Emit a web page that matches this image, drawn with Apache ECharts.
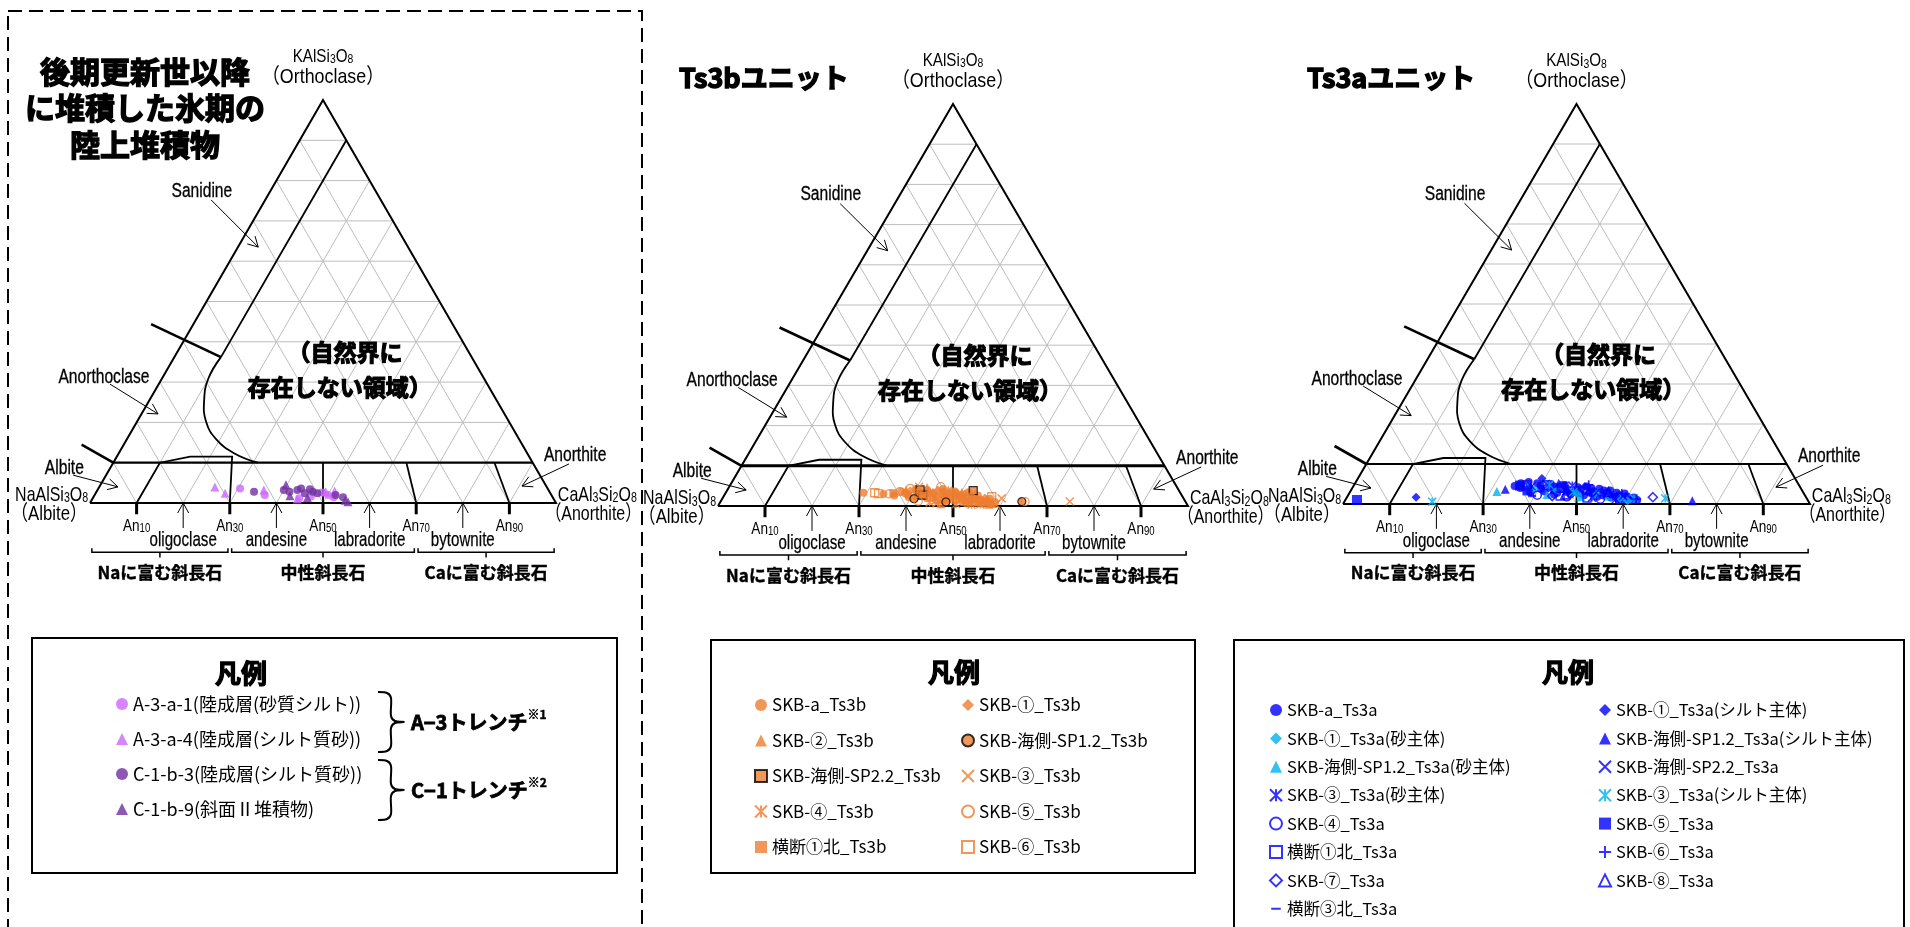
<!DOCTYPE html>
<html>
<head>
<meta charset="utf-8">
<script src="https://cdn.jsdelivr.net/npm/echarts@6.0.0/dist/echarts.min.js"></script>
<style>
  html, body { margin: 0; padding: 0; background: #fff; }
  #main { width: 1910px; height: 927px; }
</style>
</head>
<body>
<div id="main"></div>
<script>
// 長石三角図 (Ab-An-Or)  値はすべて [An, Or] (mol%) ※ Ab = 100 - An - Or

// ---- 後期更新世以降の陸上堆積物 ----
var a3a1 = [[30.4, 3.6], [36.5, 2.0], [44.3, 1.2], [46.6, 1.6], [48.5, 2.6], [50.1, 2.0], [51.6, 1.4]];
var a3a4 = [[24.8, 4.0], [27.8, 2.4], [35.7, 3.2], [44.0, 1.0], [49.2, 2.8], [51.0, 3.0]];
var c1b3 = [[33.8, 2.8], [40.0, 3.2], [41.4, 2.8], [42.9, 3.2], [43.5, 3.6], [44.9, 2.4], [45.5, 3.4],
            [46.4, 2.8], [47.6, 2.4], [51.7, 2.0], [53.6, 1.4]];
var c1b9 = [[39.8, 4.5], [42.0, 1.8], [46.0, 1.3], [54.4, 0.7], [55.2, 0.3]];

// ---- Ts3b ----
var ts3b_a = [[29.3, 3.3], [33.7, 3.0], [36.2, 2.6], [37.2, 3.6], [38.2, 3.2], [39.0, 2.8], [39.5, 2.2],
              [40.0, 4.2], [40.6, 3.6], [41.0, 2.4], [41.8, 2.6], [42.6, 3.9], [43.0, 3.4], [43.5, 1.9],
              [44.3, 3.2], [44.8, 2.0], [45.2, 2.4], [45.8, 4.2], [46.0, 3.6], [46.8, 1.6], [47.2, 2.2],
              [47.5, 2.9], [48.0, 1.5], [48.3, 2.1], [48.6, 3.6], [49.0, 3.2], [49.8, 1.3], [50.0, 2.8],
              [50.6, 2.4], [51.4, 1.0], [51.6, 3.4], [52.1, 2.0], [52.6, 0.6], [52.9, 1.4], [53.0, 1.0],
              [53.6, 2.2], [54.0, 2.6], [54.4, 0.8], [55.2, 1.5], [55.8, 1.0], [56.0, 0.6], [56.8, 1.2],
              [57.0, 1.8], [57.6, 0.5], [58.4, 1.0]];
var ts3b_1 = [[39.0, 3.8], [41.2, 3.3], [43.0, 2.8], [44.8, 4.0], [46.3, 2.7], [47.8, 3.8], [49.4, 2.6],
              [51.0, 3.0], [52.6, 2.6], [54.0, 1.6], [55.8, 2.0], [57.2, 1.0]];
var ts3b_2 = [[38.0, 4.0], [40.2, 4.4], [42.2, 4.6], [44.0, 3.5], [45.6, 1.6], [47.0, 4.0], [48.8, 2.8],
              [50.2, 3.4], [51.8, 1.6], [53.2, 3.0], [54.8, 1.1], [56.4, 1.6], [58.2, 0.6]];
var ts3b_sp12 = [[40.8, 1.8], [48.0, 1.0], [64.1, 1.1]];
var ts3b_sp22 = [[41.0, 4.0], [42.2, 2.7], [52.4, 3.8]];
var ts3b_3 = [[40.4, 4.8], [46.2, 0.6], [58.9, 0.4], [59.4, 1.9], [74.3, 1.1]];
var ts3b_4 = [[44.6, 0.9], [50.4, 0.5], [53.8, 0.3], [55.6, 0.4]];
var ts3b_5 = [[34.9, 3.0], [36.9, 3.6], [38.7, 4.4], [42.0, 1.2], [45.0, 4.8], [64.8, 1.1]];
var ts3b_y1 = [[35.7, 3.2], [47.2, 0.4], [50.9, 1.9], [57.4, 0.3]];
var ts3b_6 = [[31.7, 3.3], [32.6, 3.1], [57.1, 2.3]];

// ---- Ts3a ----
var ts3a_a = [[34.5, 4.5], [35.5, 5.2], [36.0, 4.0], [37.0, 5.5], [38.0, 4.0], [38.5, 3.0], [39.0, 5.2],
              [40.0, 4.6], [40.5, 3.8], [41.5, 3.2], [42.0, 5.0], [43.0, 4.4], [43.5, 3.4], [44.0, 2.4],
              [44.5, 2.8], [45.2, 4.6], [46.0, 3.8], [46.5, 3.0], [47.5, 2.4], [48.0, 3.0], [48.2, 4.2],
              [49.0, 3.6], [49.5, 2.6], [50.0, 4.4], [50.5, 2.2], [51.2, 4.0], [51.5, 2.8], [52.0, 3.2],
              [53.0, 3.8], [53.5, 1.8], [54.2, 3.4], [54.5, 2.2], [55.0, 2.8], [55.5, 3.4], [56.0, 2.2],
              [56.5, 1.6], [57.2, 2.8], [57.5, 1.8], [58.0, 2.2], [58.5, 1.0], [59.0, 2.6], [59.5, 1.2],
              [60.0, 1.8], [61.0, 1.0], [61.5, 1.6], [62.5, 1.0]];
var ts3a_1s = [[39.2, 3.6], [44.0, 3.4], [48.8, 2.6], [53.0, 2.4], [58.6, 1.4], [60.5, 0.8]];
var ts3a_sp12s = [[31.4, 3.1], [37.5, 4.2], [42.5, 2.4], [50.0, 1.8], [55.8, 2.0]];
var ts3a_3s = [[41.0, 5.0], [46.8, 4.6], [52.5, 1.6], [57.8, 1.2]];
var ts3a_4 = [[40.5, 2.2], [47.0, 1.8], [54.5, 1.2]];
var ts3a_y1 = [[37.0, 4.8], [45.5, 2.0], [51.5, 1.5]];
var ts3a_7 = [[43.8, 2.0], [65.5, 1.7]];
var ts3a_y3 = [[39.5, 2.0], [40.6, 5.7], [44.5, 5.4]];
var ts3a_1t = [[14.8, 1.7], [39.4, 6.4], [42.0, 4.0], [49.6, 4.4], [56.0, 2.4]];
var ts3a_sp12t = [[32.9, 3.7], [43.6, 5.2], [50.8, 3.4], [74.4, 0.8]];
var ts3a_sp22 = [[38.2, 4.4], [46.2, 3.2], [52.8, 2.8], [59.0, 2.0]];
var ts3a_3t = [[18.8, 0.6], [41.8, 4.8], [47.8, 3.0], [61.6, 1.4], [68.3, 1.4]];
var ts3a_5 = [[2.5, 1.0], [35.6, 4.6], [37.8, 3.4], [44.8, 4.0]];
var ts3a_6 = [[50.2, 4.8], [58.4, 2.6], [62.2, 1.2]];
var ts3a_8 = [[46.4, 2.4], [55.4, 3.0]];

// ---- 図の枠・境界 ([An, Or]) ----
var gridSteps = [10, 20, 30, 40, 50, 60, 70, 80, 90];
var anTicks = [10, 30, 50, 70, 90];
var anArrows = [20, 40, 60, 80];
var minerals = ['oligoclase', 'andesine', 'labradorite', 'bytownite'];
var groups = ['Naに富む斜長石', '中性斜長石', 'Caに富む斜長石'];
var groupRanges = [[0, 30], [30, 70], [70, 100]];
var or10Line = [[0, 10], [90, 10]];
var kFieldLine = [[10, 90], [10, 36.2]];
var kFieldCurve = [[10, 36.2], [9.95, 30.9], [11.7, 25.6], [14.8, 20.2], [19.2, 15.8], [24.85, 12.3], [31, 10]];
var oligoLine = [[10, 0], [10, 10], [15.75, 11.5], [24.75, 11.5], [30, 0]];
var plagLines = [[[50, 0], [45, 10]], [[70, 0], [62.9, 10]], [[90, 0], [81.8, 10]]];
var sanTick = [[-9.1, 44.4], [10, 36.2]];
var anoTick = [[-9.05, 14.5], [0, 10]];

var JP = '"Noto Sans CJK JP", sans-serif';
var LAT = '"Liberation Sans", "Noto Sans CJK JP", sans-serif';
var NARROW_X = 0.78;   // 縦長フォント風に横を詰める
var ORANGE = '#ED7D31', BLUE = '#0000FF', CYAN = '#00B0F0';
var LIGHT_V = '#CC66FF', DARK_V = '#7030A0';
var GRID_C = '#bdbdbd';

var ASTER = 'path://M0,0L10,10M10,0L0,10M5,0L5,10';
var CROSS = 'path://M0,0L10,10M10,0L0,10';
var PLUS = 'path://M5,0L5,10M0,5L10,5';
var DASH_ICON = 'path://M0,0L0.1,0L0.1,0.1ZM1,4.2L9,4.2L9,5.8L1,5.8ZM9.9,9.9L10,9.9L10,10Z';

function toXY(p) { return [p[0] + p[1] / 2, p[1]]; }

function sub(parts, big, small) {
  // 化学式・An の下付き文字
  var s = '';
  parts.forEach(function (p, i) { s += (i % 2 ? '{s|' : '{a|') + p + '}'; });
  return {
    text: s,
    rich: {
      a: { fontSize: big, fontFamily: LAT, lineHeight: big + 2, verticalAlign: 'bottom', fill: '#000' },
      s: { fontSize: small, fontFamily: LAT, lineHeight: small, verticalAlign: 'bottom', fill: '#000' }
    }
  };
}

function frameSeries(gi, or10Width) {
  return {
    type: 'custom', xAxisIndex: gi, yAxisIndex: gi, data: [[0, 0]], silent: true, z: 1, clip: false,
    renderItem: function (params, api) {
      var kids = [];
      function P(xy) { return api.coord(xy); }
      function T(p) { return P(toXY(p)); }
      function line(pts, w, c, smooth) {
        kids.push({ type: 'polyline', shape: { points: pts, smooth: smooth || 0 },
          style: { stroke: c || '#000', lineWidth: w, fill: null } });
      }
      function arrow(a, b) {
        line([a, b], 1);
        var dx = b[0] - a[0], dy = b[1] - a[1], L = Math.sqrt(dx * dx + dy * dy);
        var ux = dx / L, uy = dy / L, h = 10, s = 5.5;
        line([[b[0] - ux * h - uy * s, b[1] - uy * h + ux * s], b,
              [b[0] - ux * h + uy * s, b[1] - uy * h - ux * s]], 1);
      }
      function text(str, xy, size, opt) {
        opt = opt || {};
        var st = { text: str, fontSize: size, fontFamily: opt.family || LAT, fontWeight: opt.weight || 'normal',
          fill: '#000', align: opt.align || 'center', verticalAlign: 'middle' };
        if (opt.rich) { st.text = opt.rich.text; st.rich = opt.rich.rich; }
        if (opt.heavy) { st.stroke = '#000'; st.lineWidth = opt.heavy; }
        var p = P(xy);
        kids.push({ type: 'text', x: p[0], y: p[1], scaleX: opt.sx || NARROW_X, style: st });
      }

      gridSteps.forEach(function (k) {
        line([T([0, k]), T([100 - k, k])], 1, GRID_C);
        line([T([k, 0]), T([k, 100 - k])], 1, GRID_C);
        line([T([100 - k, 0]), T([0, 100 - k])], 1, GRID_C);
      });
      line([T([0, 0]), T([100, 0]), T([0, 100]), T([0, 0])], 2);
      line(or10Line.map(T), or10Width);
      line(kFieldLine.map(T), 1.8);
      line(kFieldCurve.map(T), 1.8, '#000', 0.45);
      line(oligoLine.map(T), 1.8);
      plagLines.forEach(function (l) { line(l.map(T), 1.8); });
      line(sanTick.map(T), 2.6);
      line(anoTick.map(T), 2.6);

      // 底辺下の目盛・矢印・区分
      anTicks.forEach(function (k) {
        line([P([k, 0]), P([k, -2.8])], 3);
        text('', [k, -5.5], 17, { sx: 0.8, rich: sub(['An', String(k)], 17, 12) });
      });
      anArrows.forEach(function (k) { arrow(P([k, -6.2]), P([k, 0])); });
      minerals.forEach(function (m, i) { text(m, [anArrows[i], -9.2], 21, { sx: 0.72, heavy: 0.25 }); });
      groupRanges.forEach(function (r, i) {
        var x0 = r[0] + 0.4, x1 = r[1] - 0.4, xc = (r[0] + r[1]) / 2;
        line([P([x0, -11.2]), P([x0, -12.2]), P([x1, -12.2]), P([x1, -11.2])], 1.5);
        line([P([xc, -12.2]), P([xc, -13.5])], 1.5);
        text(groups[i], [xc, -17.2], 17, { family: JP, weight: 'bold', sx: 1, heavy: 0.4 });
      });

      // 注記
      arrow(P([26.0, 75.2]), P([36.1, 63.5]));
      arrow(P([4.3, 29.5]), P([14.6, 22.1]));
      arrow(P([-3.6, 6.9]), P([6.0, 4.0]));
      arrow(P([102.8, 9.7]), P([92.7, 4.2]));
      text('Sanidine', [24.0, 77.4], 20, { heavy: 0.3 });
      text('Anorthoclase', [3.0, 31.2], 20, { heavy: 0.3 });
      text('Albite', [-5.5, 8.6], 20, { heavy: 0.3 });
      text('Anorthite', [104.1, 11.9], 20, { heavy: 0.3 });
      text('', [50, 111], 19, { sx: 0.8, rich: sub(['KAlSi', '3', 'O', '8'], 19, 13) });
      text('（Orthoclase）', [50, 105.7], 21, { sx: 0.85 });
      text('', [-0.4, 2.2], 21, { sx: 0.76, align: 'right', rich: sub(['NaAlSi', '3', 'O', '8'], 21, 14) });
      text('（Albite）', [-8.8, -2.7], 21, { sx: 0.8 });
      text('', [100.4, 2.2], 21, { sx: 0.76, align: 'left', rich: sub(['CaAl', '3', 'Si', '2', 'O', '8'], 21, 14) });
      text('（Anorthite）', [108, -2.7], 21, { sx: 0.76 });
      text('（自然界に', [54.7, 37.5], 23, { family: JP, weight: 'bold', sx: 1, heavy: 1.2 });
      text('存在しない領域）', [53.6, 28.8], 23, { family: JP, weight: 'bold', sx: 1, heavy: 1.2 });
      return { type: 'group', children: kids };
    }
  };
}

function sc(gi, name, data, symbol, size, style) {
  return { type: 'scatter', name: name, xAxisIndex: gi, yAxisIndex: gi, z: 5, clip: false,
    data: data.map(toXY), symbol: symbol, symbolSize: size, itemStyle: style };
}
function fill(c) { return { color: c }; }
function hollow(c, w) { return { color: 'rgba(0,0,0,0)', borderColor: c, borderWidth: w || 1.3 }; }
function edged(c) { return { color: c, borderColor: '#000', borderWidth: 1.2 }; }

var series = [frameSeries(0, 2.2), frameSeries(1, 3), frameSeries(2, 2.2)];
series.push(
  sc(0, 'A-3-a-1(陸成層(砂質シルト))', a3a1, 'circle', 8, fill(LIGHT_V)),
  sc(0, 'A-3-a-4(陸成層(シルト質砂))', a3a4, 'triangle', 9, fill(LIGHT_V)),
  sc(0, 'C-1-b-3(陸成層(シルト質砂))', c1b3, 'circle', 8, fill(DARK_V)),
  sc(0, 'C-1-b-9(斜面Ⅱ堆積物)', c1b9, 'triangle', 9, fill(DARK_V)),

  sc(1, 'SKB-a_Ts3b', ts3b_a, 'circle', 8, fill(ORANGE)),
  sc(1, 'SKB-②_Ts3b', ts3b_2, 'triangle', 9, fill(ORANGE)),
  sc(1, 'SKB-海側-SP2.2_Ts3b', ts3b_sp22, 'rect', 8, edged(ORANGE)),
  sc(1, 'SKB-④_Ts3b', ts3b_4, ASTER, 8, hollow(ORANGE, 1.5)),
  sc(1, '横断①北_Ts3b', ts3b_y1, 'rect', 8, fill(ORANGE)),
  sc(1, 'SKB-①_Ts3b', ts3b_1, 'diamond', 9, fill(ORANGE)),
  sc(1, 'SKB-海側-SP1.2_Ts3b', ts3b_sp12, 'circle', 8, edged(ORANGE)),
  sc(1, 'SKB-③_Ts3b', ts3b_3, CROSS, 8, hollow(ORANGE, 1.5)),
  sc(1, 'SKB-⑤_Ts3b', ts3b_5, 'circle', 8, hollow(ORANGE)),
  sc(1, 'SKB-⑥_Ts3b', ts3b_6, 'rect', 8, hollow(ORANGE)),

  sc(2, 'SKB-a_Ts3a', ts3a_a, 'circle', 8, fill(BLUE)),
  sc(2, 'SKB-①_Ts3a(砂主体)', ts3a_1s, 'diamond', 9, fill(CYAN)),
  sc(2, 'SKB-海側-SP1.2_Ts3a(砂主体)', ts3a_sp12s, 'triangle', 9, fill(CYAN)),
  sc(2, 'SKB-③_Ts3a(砂主体)', ts3a_3s, ASTER, 8, hollow(BLUE, 1.5)),
  sc(2, 'SKB-④_Ts3a', ts3a_4, 'circle', 8, hollow(BLUE, 1.6)),
  sc(2, '横断①北_Ts3a', ts3a_y1, 'rect', 8, hollow(BLUE)),
  sc(2, 'SKB-⑦_Ts3a', ts3a_7, 'diamond', 9, hollow(BLUE, 1.6)),
  sc(2, '横断③北_Ts3a', ts3a_y3, 'rect', [8, 2.5], fill(BLUE)),
  sc(2, 'SKB-①_Ts3a(シルト主体)', ts3a_1t, 'diamond', 9, fill(BLUE)),
  sc(2, 'SKB-海側-SP1.2_Ts3a(シルト主体)', ts3a_sp12t, 'triangle', 9, fill(BLUE)),
  sc(2, 'SKB-海側-SP2.2_Ts3a', ts3a_sp22, CROSS, 8, hollow(BLUE, 1.2)),
  sc(2, 'SKB-③_Ts3a(シルト主体)', ts3a_3t, ASTER, 8, hollow(CYAN, 1.5)),
  sc(2, 'SKB-⑤_Ts3a', ts3a_5, 'rect', 10, fill(BLUE)),
  sc(2, 'SKB-⑥_Ts3a', ts3a_6, PLUS, 9, hollow(BLUE, 1.6)),
  sc(2, 'SKB-⑧_Ts3a', ts3a_8, 'triangle', 9, hollow(BLUE, 1.6))
);

function legendCol(left, top, gap, size, names) {
  return { orient: 'vertical', left: left, top: top, padding: 0, itemWidth: 12, itemHeight: 12, itemGap: gap,
    selectedMode: false, textStyle: { fontSize: size, fontFamily: JP, color: '#000', lineHeight: 20 },
    data: names };
}

var grids = [
  { left: 90, top: 100, width: 466, height: 403 },
  { left: 718, top: 104, width: 470, height: 402 },
  { left: 1343, top: 104, width: 467, height: 400 }
];
var axes = grids.map(function (g, i) {
  return { type: 'value', gridIndex: i, min: 0, max: 100, show: false };
});

function gtext(x, y, str, size, opt) {
  opt = opt || {};
  var st = { text: str, fontSize: size, fontFamily: JP, fontWeight: 'bold', fill: '#000',
    stroke: '#000', lineWidth: opt.heavy == null ? 1.4 : opt.heavy,
    align: opt.align || 'center', verticalAlign: 'middle' };
  if (opt.rich) st.rich = opt.rich;
  return { type: 'text', x: x, y: y, style: st, silent: true };
}
function box(x, y, w, h, dash) {
  return { type: 'rect', silent: true, shape: { x: x, y: y, width: w, height: h },
    style: { fill: null, stroke: '#000', lineWidth: 2, lineDash: dash || null } };
}
function brace(x, y0, y1) {
  var ym = (y0 + y1) / 2;
  return { type: 'polyline', silent: true, style: { fill: null, stroke: '#000', lineWidth: 2 },
    shape: { points: [[x - 13, y0], [x - 4, y0 + 1], [x, y0 + 6], [x, ym - 6], [x + 4, ym - 1], [x + 13, ym],
      [x + 4, ym + 1], [x, ym + 6], [x, y1 - 6], [x - 4, y1 - 1], [x - 13, y1]], smooth: 0.3 } };
}
var trenchRich = {
  b: { fontSize: 20, fontFamily: JP, fontWeight: 'bold', lineHeight: 24, verticalAlign: 'bottom', stroke: '#000', lineWidth: 0.8 },
  s: { fontSize: 12, fontFamily: JP, fontWeight: 'bold', lineHeight: 14, verticalAlign: 'top', stroke: '#000', lineWidth: 0.5 }
};

var chart = echarts.init(document.getElementById('main'), null, { renderer: 'canvas' });
chart.setOption({
  backgroundColor: '#fff',
  animation: false,
  grid: grids,
  xAxis: axes,
  yAxis: axes,
  legend: [
    legendCol(116, 694, 15, 18, ['A-3-a-1(陸成層(砂質シルト))', 'A-3-a-4(陸成層(シルト質砂))',
      'C-1-b-3(陸成層(シルト質砂))', 'C-1-b-9(斜面Ⅱ堆積物)']),
    legendCol(754, 695, 15.5, 17, ['SKB-a_Ts3b', 'SKB-②_Ts3b', 'SKB-海側-SP2.2_Ts3b', 'SKB-④_Ts3b', '横断①北_Ts3b']),
    legendCol(961, 695, 15.5, 17, ['SKB-①_Ts3b', 'SKB-海側-SP1.2_Ts3b', 'SKB-③_Ts3b', 'SKB-⑤_Ts3b', 'SKB-⑥_Ts3b']),
    legendCol(1269, 700, 8.4, 16.5, ['SKB-a_Ts3a', 'SKB-①_Ts3a(砂主体)', 'SKB-海側-SP1.2_Ts3a(砂主体)',
      'SKB-③_Ts3a(砂主体)', 'SKB-④_Ts3a', '横断①北_Ts3a', 'SKB-⑦_Ts3a', { name: '横断③北_Ts3a', icon: DASH_ICON }]),
    legendCol(1598, 700, 8.4, 16.5, ['SKB-①_Ts3a(シルト主体)', 'SKB-海側-SP1.2_Ts3a(シルト主体)', 'SKB-海側-SP2.2_Ts3a',
      'SKB-③_Ts3a(シルト主体)', 'SKB-⑤_Ts3a', 'SKB-⑥_Ts3a', 'SKB-⑧_Ts3a'])
  ],
  graphic: [
    box(8, 11, 634, 940, [14, 7]),
    box(32, 638, 585, 235),
    box(711, 640, 484, 233),
    box(1234, 640, 670, 300),
    gtext(145, 72, '後期更新世以降', 30),
    gtext(145, 108, 'に堆積した氷期の', 30),
    gtext(145, 145, '陸上堆積物', 30),
    gtext(679, 78, 'Ts3bユニット', 27, { align: 'left' }),
    gtext(1307, 78, 'Ts3aユニット', 27, { align: 'left' }),
    gtext(241, 673, '凡例', 26, { heavy: 1.2 }),
    gtext(954, 672, '凡例', 26, { heavy: 1.2 }),
    gtext(1568, 672, '凡例', 26, { heavy: 1.2 }),
    brace(391, 692, 752),
    brace(391, 760, 820),
    gtext(411, 720, '{b|A−3トレンチ}{s|※1}', 20, { align: 'left', rich: trenchRich, heavy: 0 }),
    gtext(411, 788, '{b|C−1トレンチ}{s|※2}', 20, { align: 'left', rich: trenchRich, heavy: 0 })
  ],
  series: series
});
</script>
</body>
</html>
